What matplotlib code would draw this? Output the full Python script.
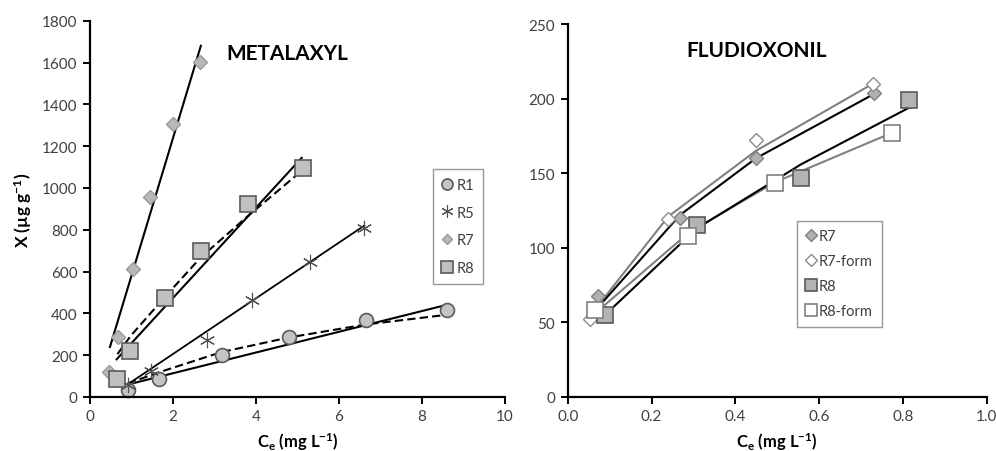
import numpy as np
import matplotlib
matplotlib.use('Agg')
import matplotlib.pyplot as plt

plt.rcParams['font.family'] = ['Lato', 'DejaVu Sans']
plt.rcParams['mathtext.fontset'] = 'custom'
plt.rcParams['mathtext.rm'] = 'Lato'
plt.rcParams['mathtext.bf'] = 'Lato:bold'
plt.rcParams['mathtext.it'] = 'Lato:italic'

# ---- METALAXYL data (Ce in mg/L, X in ug/g) ----
r1_x = [0.91, 1.66, 3.17, 4.80, 6.65, 8.59]
r1_y = [32, 88, 202, 287, 370, 417]
r5_x = [0.92, 1.48, 2.81, 3.91, 5.30, 6.61]
r5_y = [56, 126, 271, 462, 645, 808]
r7_x = [0.45, 0.67, 1.04, 1.45, 1.99, 2.65]
r7_y = [121, 287, 613, 959, 1306, 1601]
r8_x = [0.66, 0.97, 1.81, 2.67, 3.80, 5.12]
r8_y = [86, 222, 473, 698, 921, 1096]

# linear fits (solid), end points
r1_fit_x = [0.92, 8.60]
r1_fit_y = [60, 441]
r5_fit_x = [0.92, 6.61]
r5_fit_y = [62, 820]
r7_fit_x = [0.48, 2.67]
r7_fit_y = [239, 1680]
r8_fit_x = [0.64, 5.10]
r8_fit_y = [180, 1144]
# dashed curves (values at the data points)
r1_dash_y = [65, 118, 215, 285, 347, 393]
r8_dash_y = [205, 290, 480, 668, 865, 1085]

# ---- FLUDIOXONIL data ----
f7_x = [0.072, 0.268, 0.449, 0.730]
f7_y = [68, 120, 160, 204]
f7_fit = [60, 122, 160, 203]
f7f_x = [0.052, 0.240, 0.449, 0.728]
f7f_y = [52, 119, 172, 210]
f7f_fit = [54, 121, 165, 210]
f8_x = [0.089, 0.308, 0.557, 0.815]
f8_y = [55, 115, 147, 199]
f8_fit = [55, 113, 156, 194]
f8f_x = [0.065, 0.288, 0.495, 0.773]
f8f_y = [58, 108, 143.5, 177]
f8f_fit = [56, 110, 144, 177]

fig = plt.figure(figsize=(9.96, 4.52), dpi=100)
ax1 = fig.add_axes([0.0904, 0.1195, 0.4167, 0.8325])
ax2 = fig.add_axes([0.570, 0.1195, 0.4207, 0.825])

tick_col = '#404040'
for ax in (ax1, ax2):
    for s in ('top', 'right'):
        ax.spines[s].set_visible(False)
    for s in ('left', 'bottom'):
        ax.spines[s].set_linewidth(1.6)
        ax.spines[s].set_color('black')
    ax.tick_params(direction='out', length=5, width=1.4, labelsize=11,
                   labelcolor=tick_col, pad=4)

# left panel
lw = 1.5
ax1.plot(r7_fit_x, r7_fit_y, color='black', lw=lw)
ax1.plot(r8_fit_x, r8_fit_y, color='black', lw=lw)
ax1.plot(r8_x, r8_dash_y, color='black', lw=lw, ls=(0, (4, 2)))
ax1.plot(r5_fit_x, r5_fit_y, color='black', lw=1.3)
ax1.plot(r1_fit_x, r1_fit_y, color='black', lw=lw)
ax1.plot(r1_x, r1_dash_y, color='black', lw=lw, ls=(0, (4, 2)))

ax1.plot(r1_x, r1_y, ls='none', marker='o', ms=10, mfc='#c4c4c4', mec='#5a5a5a', mew=1.2, label='R1', clip_on=False)
ax1.plot(r5_x, r5_y, ls='none', marker=(6, 2, 0), ms=11, color='#505050', mew=0.8, label='R5', clip_on=False)
ax1.plot(r7_x, r7_y, ls='none', marker='D', ms=7, mfc='#b8b8b8', mec='#9a9a9a', mew=1.0, label='R7', clip_on=False)
ax1.plot(r8_x, r8_y, ls='none', marker='s', ms=11, mfc='#c0c0c0', mec='#5a5a5a', mew=1.2, label='R8', clip_on=False)

ax1.set_xlim(0, 10)
ax1.set_ylim(0, 1800)
ax1.set_xticks(np.arange(0, 11, 2))
ax1.set_yticks(np.arange(0, 1801, 200))
ax1.set_xlabel(r'C$_{\mathbf{e}}$ (mg L$^{\mathbf{-1}}$)', fontsize=12, fontweight='bold', labelpad=5)
ax1.set_ylabel(r'X (µg g$^{\mathbf{-1}}$)', fontsize=12.5, fontweight='bold', labelpad=6)
ax1.text(0.475, 0.915, 'METALAXYL', transform=ax1.transAxes, ha='center', va='center',
         fontsize=15, fontweight='bold')

h, l = ax1.get_legend_handles_labels()
leg1 = ax1.legend(h[-4:], l[-4:], loc='upper left', bbox_to_anchor=(0.827, 0.606),
                  frameon=True, fancybox=False, edgecolor='#7f7f7f', fontsize=10.5,
                  handlelength=0.7, handletextpad=0.3, labelspacing=0.95, markerscale=0.8,
                  borderpad=0.6, borderaxespad=0)
leg1.get_frame().set_linewidth(1.0)
for t in leg1.get_texts():
    t.set_color(tick_col)

# right panel
ax2.plot(f7f_x, f7f_fit, color='#808080', lw=lw)
ax2.plot(f7_x, f7_fit, color='black', lw=lw)
ax2.plot(f8f_x, f8f_fit, color='#808080', lw=lw)
ax2.plot(f8_x, f8_fit, color='black', lw=lw)

ax2.plot(f7_x, f7_y, ls='none', marker='D', ms=7, mfc='#b0b0b0', mec='#808080', mew=1.0, label='R7')
ax2.plot(f7f_x, f7f_y, ls='none', marker='D', ms=7, mfc='white', mec='#8c8c8c', mew=1.0, label='R7-form')
ax2.plot(f8_x, f8_y, ls='none', marker='s', ms=11, mfc='#b3b3b3', mec='#5a5a5a', mew=1.2, label='R8')
ax2.plot(f8f_x, f8f_y, ls='none', marker='s', ms=11, mfc='white', mec='#808080', mew=1.2, label='R8-form')

ax2.set_xlim(0, 1.0)
ax2.set_ylim(0, 250)
ax2.set_xticks(np.arange(0, 1.01, 0.2))
ax2.set_xticklabels(['%.1f' % v for v in np.arange(0, 1.01, 0.2)])
ax2.set_yticks(np.arange(0, 251, 50))
ax2.set_xlabel(r'C$_{\mathbf{e}}$ (mg L$^{\mathbf{-1}}$)', fontsize=12, fontweight='bold', labelpad=5)
ax2.text(0.45, 0.93, 'FLUDIOXONIL', transform=ax2.transAxes, ha='center', va='center',
         fontsize=15, fontweight='bold')

h, l = ax2.get_legend_handles_labels()
leg2 = ax2.legend(h[-4:], l[-4:], loc='upper left', bbox_to_anchor=(0.5475, 0.4727),
                  frameon=True, fancybox=False, edgecolor='#7f7f7f', fontsize=10.5,
                  handlelength=0.7, handletextpad=0.2, labelspacing=0.75, markerscale=0.85,
                  borderpad=0.6, borderaxespad=0)
leg2.get_frame().set_linewidth(1.0)
for t in leg2.get_texts():
    t.set_color(tick_col)

fig.savefig('out.png', dpi=100)
